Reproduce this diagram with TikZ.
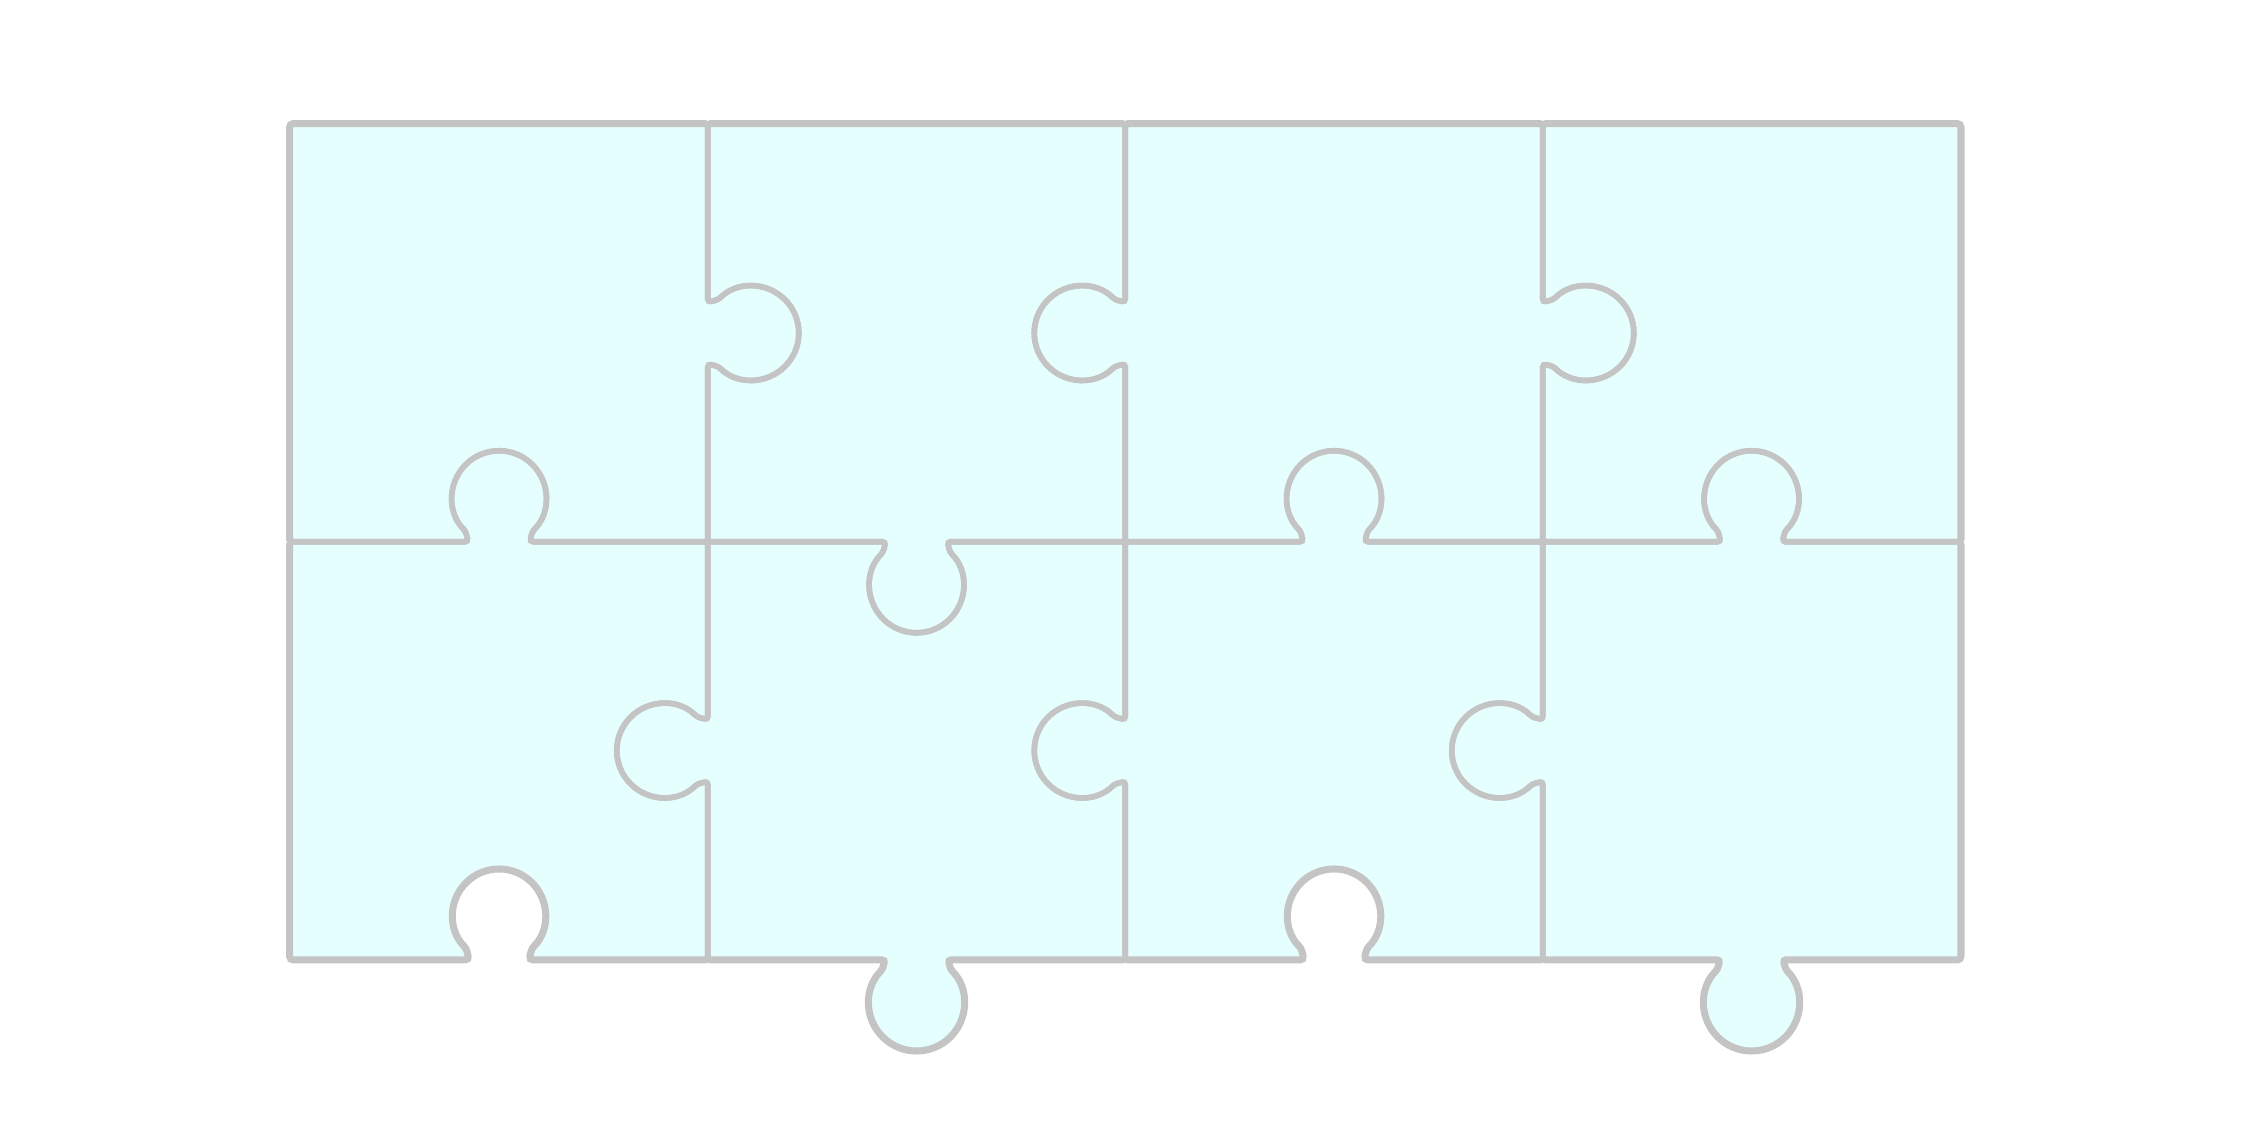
\documentclass[tikz,border=0pt]{standalone}
\usepackage{tikz}
\usetikzlibrary{calc}

\definecolor{seamgray}{HTML}{C4C4C4}
\definecolor{piecefill}{HTML}{E5FFFF}

\def\tabgap{0.074}
\def\tabdist{0.105}
\def\tabrad{0.113}
% 凸起/凹口: #1 边中点, #2 走向角, #3 (1 凸出, -1 凹入)
\newcommand\jigtab[3]{%
	-- ($(#1)+({#2+180}:\tabgap)$)
	-- ($(#1)+({#2-90*(#3)}:\tabdist)+({#2-90*(#3)-135*(#3)}:\tabrad)$)
	arc[start angle={#2-90*(#3)-135*(#3)}, end angle={#2-90*(#3)+135*(#3)}, radius=\tabrad]
	-- ($(#1)+(#2:\tabgap)$)}

% 上排
\def\pieceA{(0,1) \jigtab{0.5,1}{0}{-1} -- (1,1) \jigtab{1,1.5}{90}{1} -- (1,2) -- (0,2) -- cycle}
\def\pieceB{(1,1) \jigtab{1.5,1}{0}{1} -- (2,1) \jigtab{2,1.5}{90}{-1} -- (2,2) -- (1,2) \jigtab{1,1.5}{270}{-1} -- cycle}
\def\pieceC{(2,1) \jigtab{2.5,1}{0}{-1} -- (3,1) \jigtab{3,1.5}{90}{1} -- (3,2) -- (2,2) \jigtab{2,1.5}{270}{1} -- cycle}
\def\pieceD{(3,1) \jigtab{3.5,1}{0}{-1} -- (4,1) -- (4,2) -- (3,2) \jigtab{3,1.5}{270}{-1} -- cycle}
% 下排
\def\pieceE{(0,0) \jigtab{0.5,0}{0}{-1} -- (1,0) \jigtab{1,0.5}{90}{-1} -- (1,1) \jigtab{0.5,1}{180}{1} -- (0,1) -- cycle}
\def\pieceF{(1,0) \jigtab{1.5,0}{0}{1} -- (2,0) \jigtab{2,0.5}{90}{-1} -- (2,1) \jigtab{1.5,1}{180}{-1} -- (1,1) \jigtab{1,0.5}{270}{1} -- cycle}
\def\pieceG{(2,0) \jigtab{2.5,0}{0}{-1} -- (3,0) \jigtab{3,0.5}{90}{-1} -- (3,1) \jigtab{2.5,1}{180}{1} -- (2,1) \jigtab{2,0.5}{270}{1} -- cycle}
\def\pieceH{(3,0) \jigtab{3.5,0}{0}{1} -- (4,0) -- (4,1) \jigtab{3.5,1}{180}{1} -- (3,1) \jigtab{3,0.5}{270}{1} -- cycle}

\def\allpieces{\pieceA,\pieceB,\pieceC,\pieceD,\pieceE,\pieceF,\pieceG,\pieceH}

\begin{document}
\begin{tikzpicture}[x=4.175cm,y=4.175cm,rounded corners=0.9pt,
	rim/.style={draw=seamgray,line width=2.4pt},
	seam/.style={draw=seamgray,line width=1.6pt}]
	
	\fill[white] (-0.6953,-0.4065) rectangle (4.6963,2.2977);
	\useasboundingbox (-0.6953,-0.4065) rectangle (4.6963,2.2977);
	
	% 外轮廓
	\foreach \p in \allpieces
		\path[rim] \p;
	
	% 填充
	\foreach \p in \allpieces
		\fill[piecefill] \p;
	
	% 拼缝
	\foreach \p in \allpieces
		\path[seam] \p;
	
\end{tikzpicture}
\end{document}
